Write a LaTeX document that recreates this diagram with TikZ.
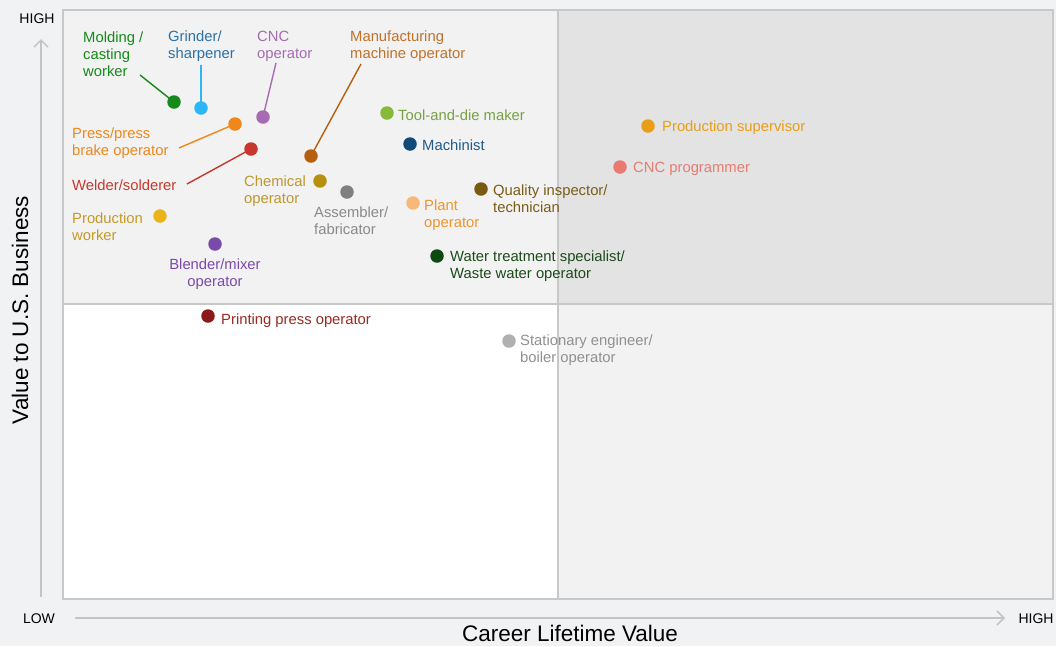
\documentclass[tikz,border=0pt]{standalone}
\usepackage{fontspec}
\setmainfont{Liberation Sans}
\usetikzlibrary{arrows.meta}
\definecolor{pagebg}{HTML}{F1F2F4}
\definecolor{qlight}{HTML}{F2F2F2}
\definecolor{qdark}{HTML}{E3E3E3}
\definecolor{gridc}{HTML}{C8C8C8}
\definecolor{axisc}{HTML}{C4C4C4}
% dot / text colours
\definecolor{cMold}{HTML}{15891A}
\definecolor{cGrindDot}{HTML}{2DB6F5}
\definecolor{cGrindTxt}{HTML}{2B70A6}
\definecolor{cCNCop}{HTML}{A66BB0}
\definecolor{cManuf}{HTML}{B5600F}
\definecolor{cManufTxt}{HTML}{C0712A}
\definecolor{cPress}{HTML}{F0871A}
\definecolor{cWeld}{HTML}{C8372D}
\definecolor{cChem}{HTML}{B8900F}
\definecolor{cChemTxt}{HTML}{BD982A}
\definecolor{cProdDot}{HTML}{EAB419}
\definecolor{cProdTxt}{HTML}{C49A26}
\definecolor{cBlend}{HTML}{7A4AAA}
\definecolor{cAssem}{HTML}{7F7F7F}
\definecolor{cAssemTxt}{HTML}{8A8A8A}
\definecolor{cTool}{HTML}{86BA3A}
\definecolor{cToolTxt}{HTML}{78A044}
\definecolor{cMach}{HTML}{0F4A78}
\definecolor{cMachTxt}{HTML}{1F5A8A}
\definecolor{cPlantDot}{HTML}{F8B878}
\definecolor{cPlantTxt}{HTML}{F0942A}
\definecolor{cQual}{HTML}{7A5A10}
\definecolor{cQualTxt}{HTML}{7A5C18}
\definecolor{cWater}{HTML}{0D4A10}
\definecolor{cWaterTxt}{HTML}{1C4A1C}
\definecolor{cSuper}{HTML}{E99E18}
\definecolor{cCNCprog}{HTML}{E87A70}
\definecolor{cPrintDot}{HTML}{8A1A1A}
\definecolor{cPrintTxt}{HTML}{9A2A22}
\definecolor{cStatDot}{HTML}{B0B0B0}
\definecolor{cStatTxt}{HTML}{909090}
\begin{document}
\begin{tikzpicture}[x=1pt,y=-1pt,
  dot/.style={circle,inner sep=0pt,minimum size=13.5pt,fill=#1},
  lbl/.style={inner sep=0pt,text=#1,font=\fontsize{14.8}{17}\selectfont,align=left,yshift=-1.5pt},
  leader/.style={draw=#1,line width=1.4pt},
  gridline/.style={draw=gridc,line width=2.5pt},
  axisarrow/.style={draw=axisc,line width=1.5pt,-{Straight Barb[length=7pt,width=14pt,line width=1.5pt]}},
  axlbl/.style={inner sep=0pt,font=\fontsize{14}{16}\selectfont},
  axtitle/.style={inner sep=0pt,font=\fontsize{22.5}{26}\selectfont}
]
\useasboundingbox (0,0) rectangle (1056,646);
\fill[pagebg] (0,0) rectangle (1056,646);
% quadrants
\fill[qlight] (63,10) rectangle (558,304);
\fill[qdark] (558,10) rectangle (1053,304);
\fill[white] (63,304) rectangle (558,599);
\fill[qlight] (558,304) rectangle (1053,599);
\draw[gridline] (63,10) rectangle (1053,599);
\draw[gridline] (558,10) -- (558,599);
\draw[gridline] (63,304) -- (1053,304);
% axes
\coordinate (ybot) at (41,597);
\coordinate (ytop) at (41,39);
\coordinate (xl) at (75,618);
\coordinate (xr) at (1005,618);
\draw[axisarrow] (ybot) -- (ytop);
\draw[axisarrow] (xl) -- (xr);
\node[axlbl,anchor=center] (yhigh) at (37,18.5) {HIGH};
\node[axlbl,anchor=center] (xlow) at (39,618.5) {LOW};
\node[axlbl,anchor=center] (xhigh) at (1036,618.5) {HIGH};
\node[axtitle,rotate=90] (ytitle) at (20,310) {Value to U.S. Business};
\node[axtitle] (xtitle) at (570,633) {Career Lifetime Value};

% dots
\node[dot=cMold] (dMold) at (174,102) {};
\node[dot=cGrindDot] (dGrind) at (201,108) {};
\node[dot=cCNCop] (dCNCop) at (263,117) {};
\node[dot=cManuf] (dManuf) at (311,156) {};
\node[dot=cPress] (dPress) at (235,124) {};
\node[dot=cWeld] (dWeld) at (251,149) {};
\node[dot=cChem] (dChem) at (320,181) {};
\node[dot=cProdDot] (dProd) at (160,216) {};
\node[dot=cBlend] (dBlend) at (215,244) {};
\node[dot=cAssem] (dAssem) at (347,192) {};
\node[dot=cTool] (dTool) at (387,113) {};
\node[dot=cMach] (dMach) at (410,144) {};
\node[dot=cPlantDot] (dPlant) at (413,203) {};
\node[dot=cQual] (dQual) at (481,189) {};
\node[dot=cWater] (dWater) at (437,256) {};
\node[dot=cSuper] (dSuper) at (648,126) {};
\node[dot=cCNCprog] (dCNCprog) at (620,167) {};
\node[dot=cPrintDot] (dPrint) at (208,316) {};
\node[dot=cStatDot] (dStat) at (509,341) {};

% labels
\node[lbl=cMold,anchor=west] (lMold) at (83,53) {Molding /\\casting\\worker};
\node[lbl=cGrindTxt,anchor=west] (lGrind) at (168,44.5) {Grinder/\\sharpener};
\node[lbl=cCNCop,anchor=west] (lCNCop) at (257,44.5) {CNC\\operator};
\node[lbl=cManufTxt,anchor=west] (lManuf) at (350,44.5) {Manufacturing\\machine operator};
\node[lbl=cPress,anchor=west] (lPress) at (72,141.5) {Press/press\\brake operator};
\node[lbl=cWeld,anchor=west] (lWeld) at (72,184) {Welder/solderer};
\node[lbl=cChemTxt,anchor=east] (lChem) at (306,189.5) {Chemical\\operator};
\node[lbl=cProdTxt,anchor=west] (lProd) at (72,225.5) {Production\\worker};
\node[lbl=cBlend,align=center,anchor=center] (lBlend) at (215,272.5) {Blender/mixer\\operator};
\node[lbl=cAssemTxt,anchor=west] (lAssem) at (314,219.5) {Assembler/\\fabricator};
\node[lbl=cToolTxt,anchor=west] (lTool) at (398,114) {Tool-and-die maker};
\node[lbl=cMachTxt,anchor=west] (lMach) at (422,144) {Machinist};
\node[lbl=cPlantTxt,anchor=west] (lPlant) at (424,213.5) {Plant\\operator};
\node[lbl=cQualTxt,anchor=west] (lQual) at (493,197.5) {Quality inspector/\\technician};
\node[lbl=cWaterTxt,anchor=west] (lWater) at (450,264.5) {Water treatment specialist/\\Waste water operator};
\node[lbl=cSuper,anchor=west] (lSuper) at (662,126) {Production supervisor};
\node[lbl=cCNCprog,anchor=west] (lCNCprog) at (633,167) {CNC programmer};
\node[lbl=cPrintTxt,anchor=west] (lPrint) at (221,319) {Printing press operator};
\node[lbl=cStatTxt,anchor=west] (lStat) at (520,348.5) {Stationary engineer/\\boiler operator};

% leader lines
\coordinate (eMold) at (140,75);
\coordinate (eGrind) at (201,65);
\coordinate (eCNCop) at (276,63);
\coordinate (eManuf) at (361,64);
\coordinate (ePress) at (179,148);
\coordinate (eWeld) at (187,184);
\draw[leader=cMold] (eMold) -- (dMold.center);
\draw[leader=cGrindDot] (eGrind) -- (dGrind.center);
\draw[leader=cCNCop] (eCNCop) -- (dCNCop.center);
\draw[leader=cManuf] (eManuf) -- (dManuf.center);
\draw[leader=cPress] (ePress) -- (dPress.center);
\draw[leader=cWeld] (eWeld) -- (dWeld.center);
\end{tikzpicture}
\end{document}
